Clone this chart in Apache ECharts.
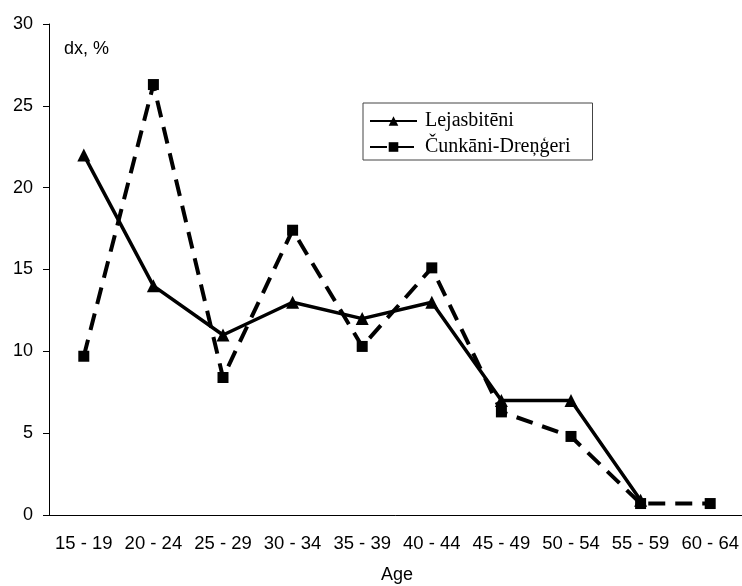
<!DOCTYPE html>
<html><head><meta charset="utf-8">
<script src="https://cdn.jsdelivr.net/npm/echarts@6/dist/echarts.min.js"></script>
<style>html,body{margin:0;padding:0;background:#fff}#c{width:742px;height:586px}</style>
</head><body><div id="c"></div>
<script>
const categories = ['15 - 19','20 - 24','25 - 29','30 - 34','35 - 39','40 - 44','45 - 49','50 - 54','55 - 59','60 - 64'];
const lejasbiteni = [22, 14, 11, 13, 12, 13, 7, 7, 0.9, null];
const cunkani = [9.7, 26.3, 8.4, 17.4, 10.3, 15.1, 6.3, 4.8, 0.7, 0.7];
const yTicks = [0, 5, 10, 15, 20, 25, 30];

const chart = echarts.init(document.getElementById('c'));
const sans = 'Liberation Sans, Arial, sans-serif';
chart.setOption({
  animation: false,
  backgroundColor: '#fff',
  grid: { left: 49, top: 24, bottom: 71, width: 696, containLabel: false, outerBoundsMode: 'none' },
  legend: {
    orient: 'vertical', left: 363, top: 103,
    itemWidth: 47, itemHeight: 12, itemGap: 6,
    padding: [8, 22, 3, 6],
    borderColor: '#444', borderWidth: 1,
    textStyle: { fontFamily: 'Liberation Serif, Times New Roman, serif', fontSize: 20, color: '#000', padding: [0, 0, 0, 3] },
    data: ['Lejasbitēni', 'Čunkāni-Dreņģeri']
  },
  graphic: [{ type: 'text', left: 64, top: 40, style: { text: 'dx, %', font: '18px ' + sans, fill: '#000' } }],
  xAxis: {
    type: 'category', data: categories, boundaryGap: true,
    name: 'Age', nameLocation: 'middle', nameGap: 51,
    nameTextStyle: { fontFamily: sans, fontSize: 18, color: '#000' },
    axisLine: { lineStyle: { color: '#000', width: 1 } },
    axisTick: { alignWithLabel: false, length: 6, lineStyle: { color: '#000' } },
    axisLabel: { fontFamily: sans, fontSize: 18.5, color: '#000', margin: 19, interval: 0 }
  },
  yAxis: {
    type: 'value', min: yTicks[0], max: yTicks[yTicks.length - 1], interval: 5,
    axisLine: { show: true, lineStyle: { color: '#000', width: 1 } },
    axisTick: { show: true, length: 6, lineStyle: { color: '#000' } },
    splitLine: { show: false },
    axisLabel: { fontFamily: sans, fontSize: 18, color: '#000', margin: 16 }
  },
  series: [
    {
      name: 'Lejasbitēni', type: 'line', data: lejasbiteni,
      symbol: 'triangle', symbolSize: 13,
      itemStyle: { color: '#000' },
      lineStyle: { color: '#000', width: 3.5 }
    },
    {
      name: 'Čunkāni-Dreņģeri', type: 'line', data: cunkani,
      symbol: 'rect', symbolSize: 11,
      itemStyle: { color: '#000' },
      lineStyle: { color: '#000', width: 4, type: [17, 10] }
    }
  ]
});
</script></body></html>
